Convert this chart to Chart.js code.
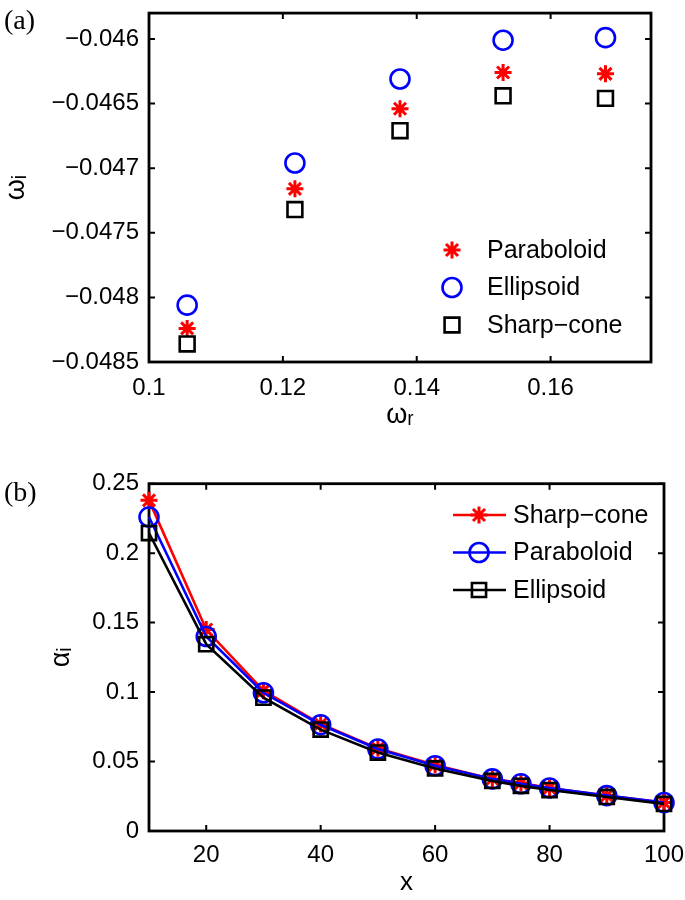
<!DOCTYPE html>
<html>
<head>
<meta charset="utf-8">
<script src="https://cdn.jsdelivr.net/npm/chart.js@4.4.1/dist/chart.umd.min.js"></script>
<style>
  html, body { margin: 0; padding: 0; background: #fff; }
  #wrap { position: relative; width: 685px; height: 900px; }
  canvas { position: absolute; left: 0; }
  #chart-a { top: 0; }
  #chart-b { top: 440px; }
</style>
</head>
<body>
<div id="wrap">
  <canvas id="chart-a" width="685" height="440"></canvas>
  <canvas id="chart-b" width="685" height="460"></canvas>
</div>
<script>
// panel (a): omega_i against omega_r
const omegaR = [0.1057, 0.1218, 0.1375, 0.1529, 0.1682];
const paraboloidA = [-0.04824, -0.04716, -0.04654, -0.04626, -0.04627];
const ellipsoidA = [-0.04806, -0.04696, -0.04631, -0.04601, -0.04599];
const sharpConeA = [-0.04836, -0.04732, -0.04671, -0.04644, -0.04646];
const xTicksA = [0.1, 0.12, 0.14, 0.16];
const yTicksA = [-0.0485, -0.048, -0.0475, -0.047, -0.0465, -0.046];

// panel (b): alpha_i against x
const xStation = [10, 20, 30, 40, 50, 60, 70, 75, 80, 90, 100];
const sharpConeB = [0.238, 0.145, 0.101, 0.077, 0.0595, 0.0475, 0.0375, 0.0345, 0.031, 0.0255, 0.0205];
const paraboloidB = [0.226, 0.140, 0.0995, 0.0765, 0.059, 0.047, 0.0375, 0.034, 0.031, 0.0255, 0.0205];
const ellipsoidB = [0.2145, 0.1345, 0.096, 0.073, 0.0565, 0.045, 0.036, 0.0325, 0.0295, 0.0245, 0.0195];
const xTicksB = [20, 40, 60, 80, 100];
const yTicksB = [0, 0.05, 0.1, 0.15, 0.2, 0.25];

const SANS = '"Liberation Sans", Arial, Helvetica, sans-serif';
const tickFont = { family: SANS, size: 24 };
const clear = 'rgba(0,0,0,0)';

function pairs(xs, ys) {
    return xs.map((x, i) => ({ x: x, y: ys[i] }));
}

function minusLabel(v) {
    if (v === 0) return '0';
    return (v < 0 ? '\u2212' : '') + String(Math.abs(v));
}

// box frame with inward ticks on all four sides, like matlab "box on"
const matlabBox = {
    id: 'matlabBox',
    beforeDatasetsDraw(chart) {
        const { ctx, chartArea: a } = chart;
        const x = chart.scales.x, y = chart.scales.y;
        const len = 6;
        ctx.save();
        ctx.strokeStyle = '#000';
        ctx.lineWidth = 2;
        ctx.beginPath();
        x.ticks.forEach(t => {
            const px = x.getPixelForValue(t.value);
            ctx.moveTo(px, a.bottom); ctx.lineTo(px, a.bottom - len);
            ctx.moveTo(px, a.top); ctx.lineTo(px, a.top + len);
        });
        y.ticks.forEach(t => {
            const py = y.getPixelForValue(t.value);
            ctx.moveTo(a.left, py); ctx.lineTo(a.left + len, py);
            ctx.moveTo(a.right, py); ctx.lineTo(a.right - len, py);
        });
        ctx.stroke();
        ctx.lineWidth = 2.8;
        ctx.strokeRect(a.left, a.top, a.right - a.left, a.bottom - a.top);
        ctx.restore();
    }
};

// legend drawn inside the axes, plus the panel letter
const insideLegend = {
    id: 'insideLegend',
    afterDraw(chart, args, opts) {
        const ctx = chart.ctx;
        ctx.save();
        chart.data.datasets.forEach((ds, i) => {
            const y = opts.firstY + i * opts.step;
            ctx.strokeStyle = ds.borderColor;
            ctx.fillStyle = clear;
            if (opts.lineFrom !== undefined) {
                ctx.lineWidth = ds.borderWidth;
                ctx.beginPath();
                ctx.moveTo(opts.lineFrom, y);
                ctx.lineTo(opts.lineTo, y);
                ctx.stroke();
            }
            ctx.lineWidth = ds.pointBorderWidth;
            Chart.helpers.drawPoint(ctx, {
                pointStyle: ds.pointStyle,
                radius: ds.pointRadius,
                rotation: 0,
                borderWidth: ds.pointBorderWidth
            }, opts.markerX, y);
            ctx.fillStyle = '#000';
            ctx.font = '25px ' + SANS;
            ctx.textAlign = 'left';
            ctx.textBaseline = 'middle';
            ctx.fillText(ds.label, opts.textX, y + 1);
        });
        ctx.font = '28px "Liberation Serif", "Times New Roman", serif';
        ctx.fillStyle = '#000';
        ctx.textAlign = 'left';
        ctx.textBaseline = 'middle';
        ctx.fillText(opts.panel, 4, opts.panelY);
        ctx.restore();
    }
};

function fixedX(height) {
    return s => { s.height = height; s.paddingLeft = 0; s.paddingRight = 0; s.paddingTop = 0; s.paddingBottom = 0; };
}
function fixedY(width) {
    return s => { s.width = width; s.paddingLeft = 0; s.paddingRight = 0; s.paddingTop = 0; s.paddingBottom = 0; };
}

function series(label, ys, xs, color, style, radius, withLine, order) {
    return {
        label: label,
        data: pairs(xs, ys),
        showLine: withLine,
        borderColor: color,
        backgroundColor: clear,
        borderWidth: 2.6,
        pointStyle: style,
        pointRadius: radius,
        pointBorderWidth: style === 'star' ? 3 : 2.6,
        pointBorderColor: color,
        pointBackgroundColor: clear,
        pointHoverRadius: radius,
        clip: false,
        order: order
    };
}

const commonPlugins = {
    legend: { display: false },
    tooltip: { enabled: false }
};

new Chart(document.getElementById('chart-a'), {
    type: 'scatter',
    data: {
        datasets: [
            series('Paraboloid', paraboloidA, omegaR, '#ff0000', 'star', 8.5, false, 3),
            series('Ellipsoid', ellipsoidA, omegaR, '#0000ff', 'circle', 9.5, false, 2),
            series('Sharp\u2212cone', sharpConeA, omegaR, '#000000', 'rect', 10.5, false, 1)
        ]
    },
    options: {
        responsive: false,
        animation: false,
        events: [],
        layout: { padding: { left: 0, top: 10.5, right: 34, bottom: 0 } },
        scales: {
            x: {
                type: 'linear', min: 0.1, max: 0.175,
                grid: { display: false, drawTicks: false },
                border: { display: false },
                afterBuildTicks: s => { s.ticks = xTicksA.map(v => ({ value: v })); },
                ticks: { padding: 12, color: '#000', font: tickFont, maxRotation: 0, callback: v => String(v) },
                title: { display: true, text: '\u03c9\u1d63', color: '#000',
                         font: { family: SANS, size: 27 }, padding: { top: 0, bottom: 8 } },
                afterFit: fixedX(78)
            },
            y: {
                type: 'linear', min: -0.0485, max: -0.0458,
                grid: { display: false, drawTicks: false },
                border: { display: false },
                afterBuildTicks: s => { s.ticks = yTicksA.map(v => ({ value: v })); },
                ticks: { padding: 10, color: '#000', font: tickFont, callback: v => minusLabel(v) },
                title: { display: true, text: '\u03c9\u1d62', color: '#000',
                         font: { family: SANS, size: 27 }, padding: { top: 0, bottom: 0 } },
                afterFit: fixedY(149)
            }
        },
        plugins: Object.assign({}, commonPlugins, {
            insideLegend: { markerX: 452, textX: 487, firstY: 250, step: 37.5, panel: '(a)', panelY: 22 }
        })
    },
    plugins: [matlabBox, insideLegend]
});

new Chart(document.getElementById('chart-b'), {
    type: 'scatter',
    data: {
        datasets: [
            series('Sharp\u2212cone', sharpConeB, xStation, '#ff0000', 'star', 8.5, true, 3),
            series('Paraboloid', paraboloidB, xStation, '#0000ff', 'circle', 9.5, true, 2),
            series('Ellipsoid', ellipsoidB, xStation, '#000000', 'rect', 10, true, 1)
        ]
    },
    options: {
        responsive: false,
        animation: false,
        events: [],
        layout: { padding: { left: 0, top: 43.7, right: 21, bottom: 0 } },
        scales: {
            x: {
                type: 'linear', min: 10, max: 100,
                grid: { display: false, drawTicks: false },
                border: { display: false },
                afterBuildTicks: s => { s.ticks = xTicksB.map(v => ({ value: v })); },
                ticks: { padding: 10, color: '#000', font: tickFont, maxRotation: 0, callback: v => String(v) },
                title: { display: true, text: 'x', color: '#000',
                         font: { family: SANS, size: 26 }, padding: { top: 0, bottom: 2 } },
                afterFit: fixedX(69)
            },
            y: {
                type: 'linear', min: 0, max: 0.25,
                grid: { display: false, drawTicks: false },
                border: { display: false },
                afterBuildTicks: s => { s.ticks = yTicksB.map(v => ({ value: v })); },
                ticks: { padding: 10, color: '#000', font: tickFont, callback: v => minusLabel(v) },
                title: { display: true, text: '\u03b1\u1d62', color: '#000',
                         font: { family: SANS, size: 27 }, padding: { top: 45, bottom: 0 } },
                afterFit: fixedY(149)
            }
        },
        plugins: Object.assign({}, commonPlugins, {
            insideLegend: { markerX: 479, textX: 513, firstY: 75, step: 37.5, lineFrom: 453, lineTo: 506,
                            panel: '(b)', panelY: 54 }
        })
    },
    plugins: [matlabBox, insideLegend]
});
</script>
</body>
</html>
